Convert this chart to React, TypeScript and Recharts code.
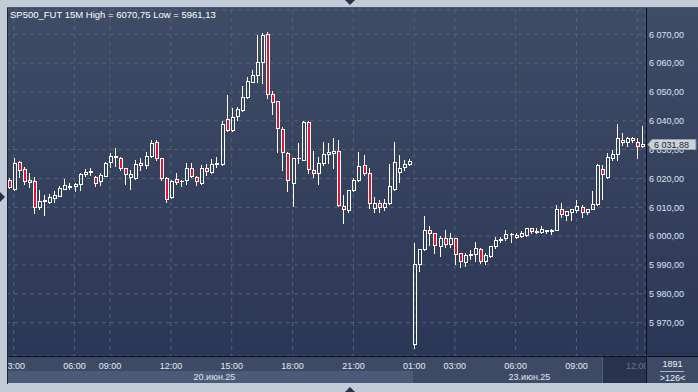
import { ComposedChart, Bar, XAxis, YAxis, CartesianGrid, ReferenceLine } from "recharts";

// SP500_FUT, 15 min candles, 20.06 - 23.06.25
const OPEN = [
  6019.5, 6016.5, 6025.75, 6023.25, 6019.5, 6019, 6010, 6012.25, 6012, 6013.25,
  6014, 6016.5, 6017, 6017.5, 6018, 6021.5, 6022.25, 6020.5, 6019, 6021,
  6025.75, 6027.75, 6027.25, 6023.5, 6020.5, 6020, 6025.25, 6024.75, 6027.75, 6032.5,
  6027, 6020, 6013.5, 6019.75, 6019, 6019.5, 6023.75, 6020.5, 6018.5, 6023.75,
  6022.25, 6025, 6025, 6040.5, 6036.75, 6041.5, 6043.75, 6048.25, 6053.5, 6056,
  6060.25, 6070, 6049.25, 6046.75, 6037, 6028.75, 6018.5, 6027, 6026.5, 6039.5,
  6023, 6021.75, 6025.5, 6028.5, 6028.75, 6029.5, 6010.5, 6009, 6016, 6019.5,
  6024.5, 6022, 6009.75, 6011.5, 6010, 6011.5, 6016.25, 6022.25, 6024, 6025,
  5962.75, 5990.5, 5995.5, 6002.25, 6001, 5996.75, 5999.25, 5997.25, 5999.25, 5994,
  5991, 5993.5, 5993.75, 5995.5, 5991.25, 5993, 5996.75, 5998.75, 5999.25, 6000.75,
  6000.5, 6000, 6000.25, 6002.75, 6001.5, 6001.5, 6002.25, 6001.75, 6002.25, 6009.25,
  6007.25, 6008.5, 6009, 6010.25, 6008.5, 6009.5, 6011, 6023.25, 6020.5, 6027,
  6028.5, 6033.5, 6032.75, 6034, 6032.75, 6031.25,
];
const HIGH = [
  6020.25, 6027, 6026, 6024, 6022, 6020.5, 6016, 6014.25, 6014.75, 6015.5,
  6017.5, 6019.75, 6018.5, 6018.5, 6021.75, 6023.25, 6023.5, 6020.75, 6021.75, 6025.75,
  6028.75, 6030.5, 6027.5, 6023.75, 6023, 6026.25, 6027, 6029.25, 6033.5, 6033.25,
  6027.25, 6020.5, 6019.5, 6021.75, 6019.5, 6025.5, 6025.5, 6020.75, 6024.75, 6025,
  6026.75, 6027.5, 6039.75, 6049, 6044.25, 6044.75, 6052, 6055, 6057.5, 6069.75,
  6070.5, 6070.75, 6050.25, 6047, 6037.75, 6029, 6027, 6032.25, 6039.75, 6039.75,
  6029.5, 6027.5, 6032.75, 6032.25, 6034, 6033.5, 6014.25, 6016, 6020, 6029,
  6028, 6023.5, 6013.5, 6012.5, 6013, 6025, 6032.5, 6028, 6026.5, 6026.75,
  5997.75, 5995.5, 6007, 6003.5, 6001.25, 6000, 6002, 6001, 5999.5, 5994.25,
  5994, 5995.25, 5998, 5995.75, 5994.25, 5996.75, 5999.75, 5999.75, 6002.25, 6001,
  6001.25, 6001.75, 6003, 6003, 6002.75, 6003.5, 6002.25, 6002.5, 6010.75, 6011.5,
  6008.75, 6009.5, 6012.5, 6010.75, 6009.5, 6015.75, 6025, 6024.75, 6028.75, 6030,
  6039, 6035.75, 6034.25, 6034.25, 6034, 6038.25,
];
const LOW = [
  6016.75, 6016, 6020.5, 6018, 6017, 6008, 6009.5, 6007.25, 6011.5, 6012,
  6013.75, 6016.25, 6016.25, 6015.75, 6016, 6020.75, 6021.25, 6017.25, 6017.75, 6020.75,
  6024, 6024.25, 6023, 6018.25, 6016.5, 6019.75, 6023, 6023.5, 6027.5, 6026.5,
  6019.5, 6012, 6013.25, 6018.25, 6017.25, 6018.25, 6020.5, 6017.75, 6018.25, 6021.25,
  6022, 6024, 6024.75, 6036.5, 6036.5, 6040.25, 6043.25, 6047.75, 6053.5, 6053.5,
  6053.25, 6048, 6042.5, 6029, 6023, 6015.75, 6010.5, 6025.25, 6026.25, 6022,
  6020.5, 6018.25, 6024.75, 6025.5, 6023.5, 6010.5, 6004.5, 6008.5, 6015.5, 6019.25,
  6021.25, 6009.75, 6008.5, 6008.5, 6009, 6011.25, 6016, 6018.75, 6023, 6024.5,
  5961.13, 5987.75, 5995.25, 5997, 5994, 5993, 5996.25, 5996.25, 5990.5, 5989.25,
  5989.5, 5992.25, 5991.25, 5990.75, 5990.5, 5992.75, 5995.75, 5998, 5998.75, 5998,
  5999.5, 5999.75, 6000, 6001, 6001, 6001.25, 6001, 6000.75, 6002, 6006.75,
  6005.75, 6005.5, 6008.5, 6006.75, 6007.75, 6009.5, 6010.75, 6013, 6020, 6026.5,
  6026.25, 6031.5, 6031.25, 6032.75, 6027.25, 6031,
];
const CLOSE = [
  6017, 6025.25, 6023, 6019, 6018.75, 6010.25, 6012.25, 6012.5, 6013.5, 6014.25,
  6016.75, 6017.75, 6017.25, 6018.25, 6021.5, 6022.25, 6022.5, 6018.5, 6021.25, 6025.5,
  6027.75, 6027.5, 6023.75, 6021.5, 6021.5, 6025, 6024.5, 6027.75, 6032.25, 6027,
  6020, 6013, 6019.25, 6018.75, 6019.25, 6023.75, 6020.75, 6019, 6023.5, 6022.75,
  6025, 6025.25, 6038.75, 6036.75, 6041.25, 6044, 6048.25, 6053.75, 6056, 6060.25,
  6069.75, 6049.25, 6046.5, 6037.5, 6029.25, 6019.5, 6027, 6027.25, 6039.5, 6023.25,
  6021.75, 6025.25, 6028.5, 6029, 6029.5, 6010.75, 6009.25, 6016, 6019.5, 6024.25,
  6021.75, 6011.5, 6011.5, 6010, 6011.5, 6017.5, 6025.75, 6023.75, 6025, 6026,
  5990.5, 5995.5, 6002, 6001.25, 5997, 5999.25, 5997.25, 5999.5, 5993.75, 5991.5,
  5993.5, 5993.75, 5995.75, 5991.5, 5993.5, 5996.5, 5998.75, 5999, 6000.75, 6000.75,
  5999.75, 6001, 6002.75, 6001.75, 6001.75, 6002.5, 6001.75, 6002, 6009.25, 6007.75,
  6008.75, 6009.25, 6010.5, 6008.5, 6009.5, 6011, 6024.75, 6021.5, 6027.5, 6028.5,
  6034, 6032.75, 6034, 6033.25, 6031.25, 6031.88,
];

const TICK_IDX = [1, 13, 20, 32, 44, 56, 68, 80, 88, 100, 112, 124];
const TICK_LABELS = ["03:00", "06:00", "09:00", "12:00", "15:00", "18:00", "21:00", "01:00", "03:00", "06:00", "09:00", "12:00"];
const PRICE_TICKS = [5970, 5980, 5990, 6000, 6010, 6020, 6030, 6040, 6050, 6060, 6070];
const LAST_PRICE = 6031.88;
const DATES = ["20.июн.25", "23.июн.25"];

const data = OPEN.map((o, i) => ({ i, open: o, high: HIGH[i], low: LOW[i], close: CLOSE[i] }));

const FONT = "'Liberation Sans', Arial, sans-serif";
const FRAME = "#c2ccd9";

const fmt = (v: number) => {
  const [a, b] = v.toFixed(2).split(".");
  return a.replace(/\B(?=(\d{3})+(?!\d))/g, " ") + "," + b;
};

function Candle(props: any) {
  const { x, y, width, height, payload } = props;
  if (payload == null) return null;
  const top = Math.min(y, y + height);
  const k = Math.abs(height) / (payload.high - payload.low);
  const py = (v: number) => top + (payload.high - v) * k;
  const cx = Math.round(x + width / 2);
  const lx = cx + 0.5;
  const up = payload.close >= payload.open;
  const hi = Math.round(py(payload.high));
  const lo = Math.round(py(payload.low)) + 1;
  const bTop = Math.round(py(Math.max(payload.open, payload.close))) + 0.5;
  const bBot = Math.round(py(Math.min(payload.open, payload.close))) + 0.5;
  if (bBot - bTop < 1) {
    return (
      <g>
        <line x1={lx} x2={lx} y1={hi} y2={lo} stroke="#fff" />
        <line x1={cx - 1} x2={cx + 3} y1={bTop} y2={bTop} stroke="#fff" />
      </g>
    );
  }
  return (
    <g>
      <line x1={lx} x2={lx} y1={hi} y2={bTop} stroke="#fff" />
      <line x1={lx} x2={lx} y1={bBot} y2={lo} stroke="#fff" />
      <rect x={cx - 0.5} y={bTop} width={3} height={bBot - bTop} fill={up ? "none" : "#e3122d"} stroke="#fff" />
    </g>
  );
}

function PriceTick({ x, y, payload }: any) {
  return (
    <text x={x} y={y} dy={3.3} fontSize={9} fontFamily={FONT} fill="#dbe5f4">
      {fmt(payload.value)}
    </text>
  );
}

function TimeTick({ x, y, payload }: any) {
  const k = TICK_IDX.indexOf(payload.value);
  return (
    <text x={x} y={y + 12.5} textAnchor="middle" fontSize={9} fontFamily={FONT} fill={k === TICK_IDX.length - 1 ? "#6b778d" : "#e4eaf4"}>
      {TICK_LABELS[k]}
    </text>
  );
}

function LastPrice({ viewBox }: any) {
  const x = viewBox.x + viewBox.width + 3;
  const y = Math.round(viewBox.y) + 0.5;
  return (
    <g>
      <path d={`M${x} ${y} L${x + 4} ${y - 5} L${x + 48} ${y - 5} L${x + 48} ${y + 5} L${x + 4} ${y + 5} Z`} fill="#cdd2d9" stroke="#97a0ae" />
      <text x={x + 6} y={y + 3.3} fontSize={9} fontFamily={FONT} fill="#1f2535">
        {fmt(LAST_PRICE)}
      </text>
    </g>
  );
}

const abs = (l: number, t: number, w: number, h: number, extra: any = {}) => ({
  position: "absolute" as const, left: l, top: t, width: w, height: h, ...extra,
});

export default function App() {
  return (
    <div style={{ position: "absolute", left: 0, top: 0, width: 698, height: 392, background: FRAME, overflow: "hidden", fontFamily: FONT }}>
      {/* background panels */}
      <div style={abs(8, 8, 690, 348, { background: "linear-gradient(#3f4c66, #2b3756)" })} />
      <div style={abs(8, 356, 638, 27, { background: "#3c4a66" })} />
      <div style={abs(8, 371, 405, 12, { background: "#4b5a77" })} />
      <div style={abs(602, 357, 44, 26, { background: "#28334d", borderLeft: "1px solid #55617a" })} />
      <div style={abs(8, 370, 405, 14, { color: "#e0e6f0", fontSize: 9, textAlign: "center", lineHeight: "14px", paddingLeft: 8, boxSizing: "border-box" })}>{DATES[0]}</div>
      <div style={abs(413, 370, 233, 14, { color: "#e0e6f0", fontSize: 9, textAlign: "center", lineHeight: "14px" })}>{DATES[1]}</div>

      <div style={{ position: "absolute", left: 0, top: 0 }}>
        <ComposedChart width={698} height={392} data={data} margin={{ top: 10, right: 0, bottom: 10, left: 6.13 }}>
          <CartesianGrid stroke="#56627b" strokeDasharray="4 4" />
          <XAxis
            dataKey="i"
            type="category"
            ticks={TICK_IDX}
            interval={0}
            height={26}
            tickSize={0}
            tickMargin={0}
            axisLine={false}
            tickLine={false}
            tick={<TimeTick />}
          />
          <YAxis
            orientation="right"
            type="number"
            domain={[5958.46, 6078.39]}
            allowDataOverflow
            ticks={PRICE_TICKS}
            width={53.1}
            tickSize={0}
            tickMargin={4}
            axisLine={false}
            tickLine={false}
            tick={<PriceTick />}
          />
          <Bar
            dataKey={(d: any) => [d.low, d.high]}
            shape={(p: any) => <Candle {...p} />}
            isAnimationActive={false}
          />
          <ReferenceLine
            y={LAST_PRICE}
            stroke="none"
            ifOverflow="visible"
            zIndex={2000}
            label={(p: any) => <LastPrice {...p} />}
          />
        </ComposedChart>
      </div>

      {/* frame overlays */}
      <div style={abs(0, 0, 698, 8, { background: FRAME })} />
      <div style={abs(0, 0, 8, 392, { background: FRAME })} />
      <div style={abs(0, 383, 698, 9, { background: FRAME })} />
      <div style={abs(7, 7, 1, 377, { background: "#1d2535" })} />
      <div style={abs(7, 7, 691, 1, { background: "#4a5670" })} />
      <div style={abs(8, 356, 690, 1, { background: "#0c0f16" })} />
      <div style={abs(646, 8, 1, 375, { background: "#0c0f16" })} />
      <div style={abs(647, 357, 51, 26, { background: "#3c4a66" })} />
      <div style={abs(647, 358, 51, 12, { color: "#eef2f8", fontSize: 9, textAlign: "center", lineHeight: "12px" })}>1891</div>
      <div style={abs(660, 371, 24, 1, { background: "#aab4c4" })} />
      <div style={abs(647, 372, 51, 12, { color: "#eef2f8", fontSize: 9, textAlign: "center", lineHeight: "12px" })}>{">126<"}</div>
      <div style={abs(10, 8, 300, 14, { color: "#ffffff", fontSize: 9.5, lineHeight: "14px" })}>
        SP500_FUT 15M High = 6070,75 Low = 5961,13
      </div>
      {/* arrows */}
      <div style={abs(345, 0, 0, 0, { borderLeft: "5px solid transparent", borderRight: "5px solid transparent", borderTop: "5px solid #26314a" })} />
      <div style={abs(345, 387, 0, 0, { borderLeft: "5px solid transparent", borderRight: "5px solid transparent", borderBottom: "5px solid #26314a" })} />
      <div style={abs(0, 192, 0, 0, { borderTop: "5px solid transparent", borderBottom: "5px solid transparent", borderLeft: "5px solid #26314a" })} />
    </div>
  );
}
